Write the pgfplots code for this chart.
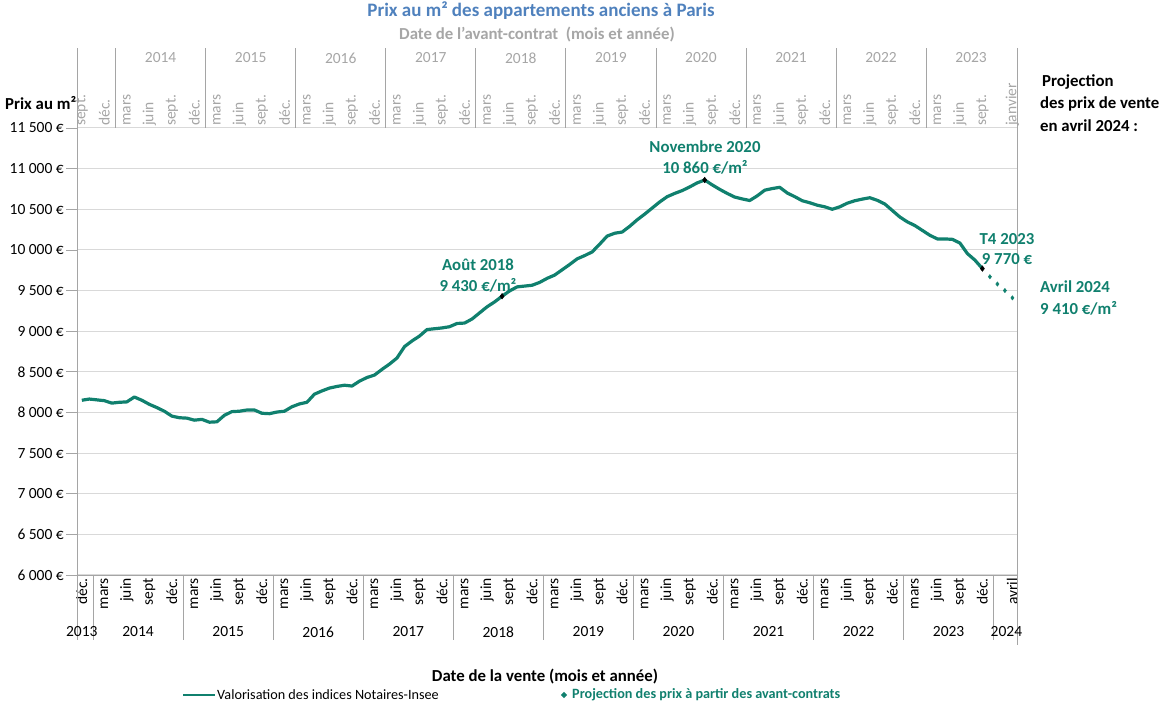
\documentclass[border=0pt]{standalone}
\usepackage{pgfplots}
\pgfplotsset{compat=1.18}
\usetikzlibrary{shapes.geometric}
\usepackage{fontspec}
\setmainfont{Carlito}
\definecolor{teal2}{RGB}{16,128,110}
\definecolor{tblue}{RGB}{79,129,189}
\definecolor{lgray}{RGB}{166,166,166}
\definecolor{gridc}{RGB}{217,217,217}
\definecolor{sepc}{RGB}{165,165,165}

\pgfplotstableread{
m v
0 8150
1 8165
2 8155
3 8145
4 8115
5 8125
6 8130
7 8190
8 8150
9 8100
10 8060
11 8015
12 7955
13 7935
14 7930
15 7905
16 7915
17 7880
18 7885
19 7965
20 8010
21 8015
22 8030
23 8030
24 7990
25 7985
26 8005
27 8015
28 8070
29 8105
30 8125
31 8225
32 8265
33 8300
34 8320
35 8335
36 8325
37 8385
38 8430
39 8460
40 8530
41 8595
42 8670
43 8810
44 8880
45 8940
46 9020
47 9030
48 9040
49 9055
50 9095
51 9100
52 9150
53 9225
54 9300
55 9360
56 9430
57 9495
58 9545
59 9555
60 9565
61 9600
62 9650
63 9690
64 9755
65 9820
66 9890
67 9930
68 9975
69 10070
70 10170
71 10205
72 10220
73 10290
74 10370
75 10440
76 10515
77 10590
78 10655
79 10695
80 10730
81 10775
82 10825
83 10860
84 10800
85 10745
86 10695
87 10650
88 10627
89 10608
90 10665
91 10735
92 10755
93 10770
94 10700
95 10655
96 10605
97 10580
98 10550
99 10530
100 10500
101 10530
102 10575
103 10605
104 10625
105 10642
106 10610
107 10565
108 10485
109 10405
110 10345
111 10300
112 10240
113 10180
114 10135
115 10135
116 10130
117 10085
118 9955
119 9875
120 9770
}\indices

\pgfplotstableread{
m v
121 9670
122 9580
123 9500
124 9410
}\projection

\pgfplotstableread{
m v
56 9430
83 10860
120 9770
}\points

\newcommand{\fs}{\fontsize{15.5}{18}\selectfont}
\newcommand{\fb}{\bfseries\fontsize{16.8}{19}\selectfont}

\begin{document}
\begin{tikzpicture}[x=1pt,y=1pt]
\useasboundingbox (0,0) rectangle (1159,706);
% top axis (avant-contrat)
\begin{axis}[
  at={(77pt,131pt)}, anchor=south west,
  width=940.5pt, height=447pt, scale only axis,
  xmin=-0.64, xmax=124.68, ymin=6000, ymax=11500,
  axis x line*=top, axis y line=none,
  ytick=\empty, scaled ticks=false,
  x axis line style={draw=none},
  xtick={0,3,...,120,124},
  xticklabels={sept.,déc.,
    mars,juin,sept.,déc.,mars,juin,sept.,déc.,mars,juin,sept.,déc.,
    mars,juin,sept.,déc.,mars,juin,sept.,déc.,mars,juin,sept.,déc.,
    mars,juin,sept.,déc.,mars,juin,sept.,déc.,mars,juin,sept.,déc.,
    mars,juin,sept.,janvier},
  xticklabel style={rotate=90, anchor=west, text=lgray, font=\fs, inner sep=2pt},
  xtick style={draw=none},
]
\end{axis}
% main axis
\begin{axis}[
  at={(77pt,131pt)}, anchor=south west,
  width=940.5pt, height=447pt, scale only axis,
  xmin=-0.64, xmax=124.68, ymin=6000, ymax=11500,
  clip=false, scaled ticks=false,
  axis x line*=bottom, axis y line*=left,
  axis line style={draw=sepc, line width=0.8pt, -},
  ytick={6000,6500,...,11500},
  yticklabels={6 000 €,6 500 €,7 000 €,7 500 €,8 000 €,8 500 €,9 000 €,9 500 €,10 000 €,10 500 €,11 000 €,11 500 €},
  yticklabel style={font=\fs, inner sep=2pt},
  ytick style={draw=sepc, line width=0.8pt},
  major tick length=11pt, tick align=outside,
  ymajorgrids, major grid style={draw=gridc, line width=1pt},
  xtick={0,3,...,120,124},
  xticklabels={déc.,
    mars,juin,sept,déc.,mars,juin,sept,déc.,mars,juin,sept,déc.,
    mars,juin,sept,déc.,mars,juin,sept,déc.,mars,juin,sept,déc.,
    mars,juin,sept,déc.,mars,juin,sept,déc.,mars,juin,sept,déc.,
    mars,juin,sept,déc.,avril},
  xticklabel style={rotate=90, anchor=east, font=\fs, inner sep=2pt},
  xticklabel shift=-10pt,
  xtick style={draw=none},
]
\addplot[teal2, line width=3.2pt, line join=round] table[x=m,y=v]{\indices};
\addplot[only marks, mark=diamond*, mark size=2.2pt, teal2] table[x=m,y=v]{\projection};
\addplot[only marks, mark=diamond*, mark size=2.8pt, black] table[x=m,y=v]{\points};

% bottom separators
\foreach \s in {1.5,13.5,25.5,37.5,49.5,61.5,73.5,85.5,97.5,109.5,121.5}{
  \edef\tmp{\noexpand\draw[sepc, line width=0.8pt] (axis cs:\s,6000) -- ++(0pt,-65pt);}\tmp
}
% top separators
\foreach \s in {4.5,16.5,28.5,40.5,52.5,64.5,76.5,88.5,100.5,112.5}{
  \edef\tmp{\noexpand\draw[sepc, line width=0.8pt] (axis cs:\s,11500) -- ++(0pt,80pt);}\tmp
}
\draw[sepc, line width=0.8pt] (axis cs:-0.64,11500) -- ++(0pt,80pt);
\draw[sepc, line width=0.8pt] (axis cs:-0.64,6000) -- ++(0pt,-65pt);
\draw[sepc, line width=1pt] (axis cs:124.68,11500) ++(0pt,80pt) -- (axis cs:124.68,6000) -- ++(0pt,-70pt);

% top years
\foreach \s/\yr in {10.5/2014,22.5/2015,34.5/2016,46.5/2017,58.5/2018,70.5/2019,82.5/2020,94.5/2021,106.5/2022,118.5/2023}{
  \edef\tmp{\noexpand\node[text=lgray, font=\noexpand\fs, yshift=70pt] at (axis cs:\s,11500) {\yr};}\tmp
}
% bottom years
\foreach \s/\yr in {0/2013,7.5/2014,19.5/2015,31.5/2016,43.5/2017,55.5/2018,67.5/2019,79.5/2020,91.5/2021,103.5/2022,115.5/2023,123.2/2024}{
  \edef\tmp{\noexpand\node[font=\noexpand\fs, yshift=-57pt] at (axis cs:\s,6000) {\yr};}\tmp
}
\end{axis}

% titles
\node[font=\bfseries\fontsize{19}{22}\selectfont, text=tblue] at (541,695) {Prix au m² des appartements anciens à Paris};
\node[font=\fb, text=lgray] at (537,671) {Date de l'avant-contrat\ \ (mois et année)};
\node[font=\fb, anchor=west, inner sep=0pt] at (5,603) {Prix au m²};
\node[font=\fb] at (545,29) {Date de la vente (mois et année)};

% right text
\node[font=\fb, anchor=west, inner sep=0pt] at (1042,624) {Projection};
\node[font=\fb, anchor=west, inner sep=0pt] at (1040,602) {des prix de vente};
\node[font=\fb, anchor=west, inner sep=0pt] at (1040,580) {en avril 2024 :};
\node[font=\fb, anchor=west, text=teal2, inner sep=0pt] at (1040,419) {Avril 2024};
\node[font=\fb, anchor=west, text=teal2, inner sep=0pt] at (1040,398) {9 410 €/m²};

% annotations
\node[font=\fb, text=teal2] at (1007,467) {T4 2023};
\node[font=\fb, text=teal2] at (1007,447) {9 770 €};
\node[font=\fb, text=teal2] at (705,559) {Novembre 2020};
\node[font=\fb, text=teal2] at (705,539) {10 860 €/m²};
\node[font=\fb, text=teal2] at (478,441) {Août 2018};
\node[font=\fb, text=teal2] at (478,421) {9 430 €/m²};

% legend
\draw[teal2, line width=2.8pt] (183,11) -- (215,11);
\node[font=\fontsize{14.2}{16}\selectfont, anchor=west, inner sep=1pt] at (216,11) {Valorisation des indices Notaires-Insee};
\node[diamond, fill=teal2, inner sep=1.6pt] at (564,11) {};
\node[font=\bfseries\fontsize{14.2}{16}\selectfont, anchor=west, inner sep=1pt, text=teal2] at (571,11) {Projection des prix à partir des avant-contrats};
\end{tikzpicture}
\end{document}
